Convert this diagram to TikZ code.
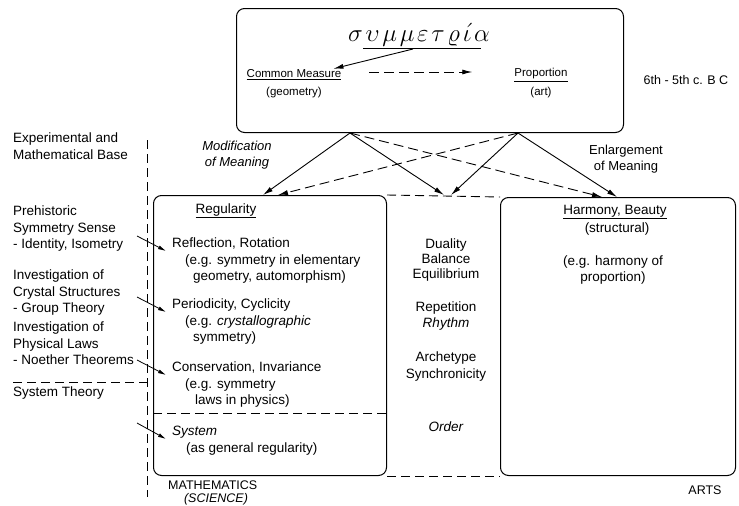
\documentclass[tikz,border=0pt]{standalone}
\usepackage{fontspec}
\setmainfont{Liberation Sans}
\usetikzlibrary{positioning,arrows.meta}

\begin{document}
\begin{tikzpicture}[
    x=1pt, y=-1pt,
    font=\fontsize{13.5}{16.5}\selectfont,
    box/.style={draw, line width=1pt, rounded corners=8pt, anchor=north west, inner sep=0pt},
    txt/.style={align=left, anchor=north west, inner sep=0pt},
    mid/.style={align=center, inner sep=0pt},
    tag/.style={mid, font=\fontsize{11.5}{14}\selectfont},
    arrow/.style={-{Latex[length=10pt,width=5pt]}, line width=0.9pt},
    dasharrow/.style={arrow, dash pattern=on 10pt off 5pt},
    small/.style={-{Latex[length=8pt,width=4pt]}, line width=0.8pt},
    divider/.style={line width=0.9pt, dash pattern=on 9pt off 5pt}
]
\useasboundingbox (0,0) rectangle (739,506);

% origin of the word
\node[box, minimum width=387pt, minimum height=124pt] (origin) at (236,8) {};
\node[inner sep=0pt, anchor=base, font=\fontsize{24}{24}\selectfont] (greek) at (419,41) {$\sigma\mkern2mu\upsilon\mkern2mu\mu\mkern2mu\mu\mkern2mu\varepsilon\mkern2mu\tau\mkern2mu\varrho\mkern2mu\acute{\iota}\mkern2mu\alpha$};
\coordinate (stem) at (413,49);
\node[tag] (measure) at (294,75) {\underline{Common Measure}};
\node[tag] (geometry) at (294,93) {(geometry)};
\node[tag] (proportion) at (541,75) {\underline{Proportion}};
\node[tag] (art) at (541,93) {(art)};
\node[mid, font=\fontsize{12.5}{15}\selectfont] (epoch) at (686,80) {6th - 5th c. B C};

% left column
\node[txt] (base) at (13,133) {Experimental and\\Mathematical Base};
\node[txt] (prehist) at (13,206) {Prehistoric\\Symmetry Sense\\- Identity, Isometry};
\node[txt] (crystal) at (13,270) {Investigation of\\Crystal Structures\\- Group Theory};
\node[txt] (physical) at (13,322) {Investigation of\\Physical Laws\\- Noether Theorems};
\node[txt] (systheory) at (13,387) {System Theory};

% mathematics
\node[box, minimum width=233pt, minimum height=280pt] (regular) at (153,195) {};
\node[mid] (regtitle) at (226,211) {\underline{Regularity}};
\node[txt] (reflect) at (172,238) {Reflection, Rotation\\\hspace*{13pt}(e.g. symmetry in elementary\\\hspace*{21pt}geometry, automorphism)};
\node[txt] (period) at (172,299) {Periodicity, Cyclicity\\\hspace*{13pt}(e.g. \textit{crystallographic}\\\hspace*{21pt}symmetry)};
\node[txt] (conserve) at (172,362) {Conservation, Invariance\\\hspace*{13pt}(e.g. symmetry\\\hspace*{23pt}laws in physics)};
\node[txt] (system) at (172,426) {\textit{System}\\\hspace*{14pt}(as general regularity)};

% arts
\node[box, minimum width=235pt, minimum height=278pt] (harmony) at (500,197) {};
\node[mid] (hartitle) at (615,212) {\underline{Harmony, Beauty}};
\node[mid] (structural) at (617,229) {(structural)};
\node[mid] (harex) at (613,270) {(e.g. harmony of\\proportion)};

% in between
\node[mid, font=\fontsize{13.5}{15}\selectfont] (duality) at (446,260) {Duality\\Balance\\Equilibrium};
\node[mid, font=\fontsize{13.5}{15.5}\selectfont] (repeat) at (446,316) {Repetition\\\textit{Rhythm}};
\node[mid, font=\fontsize{13.5}{17}\selectfont] (archetype) at (446,367) {Archetype\\Synchronicity};
\node[mid] (order) at (446,427) {\textit{Order}};

\node[mid, font=\fontsize{13}{16}\selectfont] (modify) at (237,155) {\textit{Modification}\\\textit{of Meaning}};
\node[mid, font=\fontsize{13}{16}\selectfont] (enlarge) at (626,159) {Enlargement\\of Meaning};

\node[txt, font=\fontsize{12.5}{15}\selectfont] (math) at (168,481) {MATHEMATICS};
\node[mid, font=\fontsize{12.5}{15}\selectfont] (science) at (216,499) {\textit{(SCIENCE)}};
\node[mid, font=\fontsize{12.5}{15}\selectfont] (arts) at (705,490) {ARTS};

% connectors
\coordinate (lapex) at ([xshift=114pt]origin.south west);
\coordinate (rapex) at ([xshift=282pt]origin.south west);

\draw[line width=1pt] (363,48) -- (481,48);
\draw[arrow] (stem) -- ([xshift=-8pt,yshift=1pt]measure.north east);
\draw[dasharrow] ([xshift=28pt,yshift=3pt]measure.east) -- ([xshift=-42pt,yshift=3pt]proportion.west);

\draw[arrow] (lapex) -- ([xshift=110pt]regular.north west);
\draw[arrow] (lapex) -- ([xshift=57pt]regular.north east);
\draw[dasharrow] (lapex) -- ([xshift=102pt]harmony.north west);
\draw[dasharrow] (rapex) -- ([xshift=125pt]regular.north west);
\draw[arrow] (rapex) -- ([xshift=64pt]regular.north east);
\draw[arrow] (rapex) -- ([xshift=117pt]harmony.north west);

\draw[divider] (regular.north east) -- (harmony.north west);
\draw[divider] (regular.south east) -- (harmony.south west);
\draw[divider] (153,413) -- (386,413);
\draw[divider] (147,140) -- (147,497);
\draw[divider] (13,382) -- (147,382);

\coordinate (in1) at (137,236);
\coordinate (in2) at (137,297);
\coordinate (in3) at (137,360);
\coordinate (in4) at (137,423);
\draw[small] (in1) -- ([xshift=-6pt,yshift=-13pt]reflect.north west);
\draw[small] (in2) -- ([xshift=-6pt,yshift=-13pt]period.north west);
\draw[small] (in3) -- ([xshift=-6pt,yshift=-13pt]conserve.north west);
\draw[small] (in4) -- ([xshift=-6pt,yshift=-13pt]system.north west);

\end{tikzpicture}
\end{document}
